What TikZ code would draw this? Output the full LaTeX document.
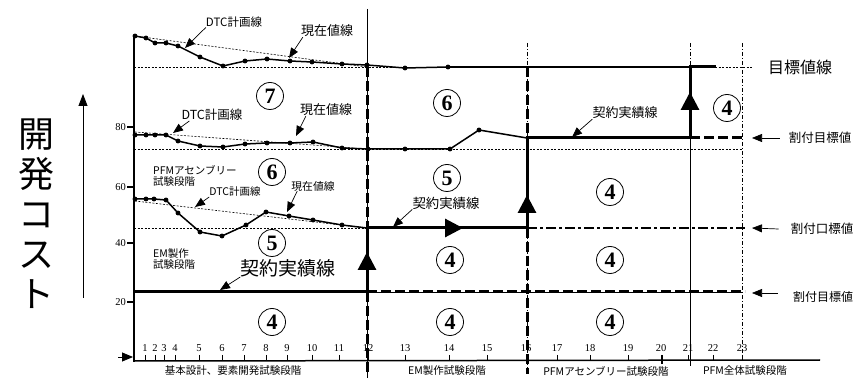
\documentclass[tikz,border=0pt]{standalone}
\usepackage{fontspec}
\setmainfont{Liberation Serif}
\newfontfamily\jp{Noto Sans CJK JP}
\usetikzlibrary{arrows.meta}

\tikzset{
  nowline/.style={line width=1.5pt,line join=round},
  dtcline/.style={line width=0.6pt,dash pattern=on 2pt off 1.5pt},
  goalline/.style={line width=0.6pt,dash pattern=on 2pt off 1.5pt},
  contract/.style={line width=3pt},
  thickdash/.style={line width=3pt,dash pattern=on 10pt off 4pt},
  thinchain/.style={line width=0.6pt,dash pattern=on 4pt off 2pt on 1pt off 2pt},
  pointer/.style={line width=0.7pt,-{Triangle[length=10pt,width=8pt]}},
  bigtip/.style={-{Triangle[length=18pt,width=18pt]}},
  jlbl/.style={font=\jp\fontsize{#1}{#1}\selectfont,inner sep=0pt},
  num/.style={font=\fontsize{10.5}{10.5}\selectfont,inner sep=0pt},
  circnum/.style={circle,draw,line width=0.8pt,minimum size=27pt,inner sep=0pt,
    font=\bfseries\fontsize{22}{22}\selectfont}
}

\begin{document}
\begin{tikzpicture}[x=1pt,y=-1pt]
\useasboundingbox (0,0) rectangle (865,379);

% left title and arrow
\node[jlbl=36,align=center,font=\jp\fontsize{36}{40}\selectfont] (title) at (37,214) {開\\発\\コ\\ス\\ト};
\coordinate (upBase) at (83,298);
\coordinate (upTip) at (83,94);
\draw[line width=0.8pt,-{Triangle[length=12pt,width=9pt]}] (upBase) -- (upTip);

% axes
\draw[line width=2.5pt] (134,36) -- (134,362);
\draw[line width=1.5pt] (134,361) -- (820,360);
\coordinate (zeroTail) at (118,357);
\coordinate (zeroTip) at (133,357);
\draw[line width=0.8pt,-{Triangle[length=11pt,width=9pt]}] (zeroTail) -- (zeroTip);

% y ticks
\draw[line width=2pt] (127,127) -- (134,127) (127,187) -- (134,187)
  (127,243) -- (134,243) (127,302) -- (134,302);
\node[num,anchor=east] (y80) at (126,127) {80};
\node[num,anchor=east] (y60) at (126,187) {60};
\node[num,anchor=east] (y40) at (126,243) {40};
\node[num,anchor=east] (y20) at (126,302) {20};

% x ticks and numbers
\foreach \x/\n in {145/1,155/2,164/3,175/4,199/5,222/6,244/7,266/8,287/9,312/10,
  339/11,368/12,405/13,449/14,487/15,526/16,557/17,590/18,628/19,661/20,688/21,
  713/22,742/23}{
  \draw[line width=0.8pt] (\x,355) -- (\x,361);
  \node[num] (n\n) at (\x,348) {\n};
}

% vertical phase lines
\draw[line width=0.7pt] (367,9) -- (367,378);
\draw[thickdash] (367,67) -- (367,228);
\draw[thickdash] (367,292) -- (367,374);
\draw[thinchain] (527,43) -- (527,375);
\draw[thickdash] (527,67) -- (527,138);
\draw[thickdash] (527,228) -- (527,374);
\draw[thinchain] (690,43) -- (690,67);
\draw[line width=0.8pt] (690,138) -- (690,366);
\draw[thinchain] (742,43) -- (742,360);
\draw[line width=2pt] (662,355) -- (662,364);

% horizontal reference lines
\draw[goalline] (134,67) -- (752,67);
\draw[goalline] (134,149) -- (742,149);
\draw[goalline] (134,228) -- (367,228);
\draw[thickdash] (690,138) -- (745,138);
\draw[line width=2.5pt,dash pattern=on 10pt off 3pt on 3pt off 3pt] (527,228) -- (745,228);
\draw[line width=0.7pt] (367,292) -- (742,292);
\draw[thickdash] (367,292) -- (745,292);

% DTC plan lines
\draw[dtcline] (135,36) -- (367,67);
\draw[dtcline] (135,132) -- (367,149);
\draw[dtcline] (135,201) -- (367,228);

% current value lines
\draw[nowline] plot[mark=*,mark size=2.2pt,mark options={line width=0.4pt}] coordinates {
  (135,36) (146,38) (155,43) (166,43) (178,46) (200,57) (223,66) (245,61) (267,59)
  (290,61) (312,62) (342,64) (367,65) (405,68) (448,67)};
\draw[nowline] (448,67) -- (690,67);
\draw[nowline] plot[mark=*,mark size=2.2pt,mark options={line width=0.4pt}] coordinates {
  (135,135) (146,135) (155,135) (166,135) (178,141) (200,146) (223,147) (245,144)
  (267,143) (290,143) (313,142) (342,148) (368,149) (405,149) (450,149) (479,130)};
\draw[nowline] (479,130) -- (527,138);
\draw[nowline] plot[mark=*,mark size=2.2pt,mark options={line width=0.4pt}] coordinates {
  (135,199) (146,199) (154,199) (166,200) (178,213) (200,232) (222,236) (246,225)
  (266,212) (289,216) (313,220) (342,225)};
\draw[nowline] (342,225) -- (367,228);

% contract line
\draw[contract] (134,292) -- (367,292);
\draw[contract,bigtip] (367,292) -- (367,252);
\draw[contract] (367,256) -- (367,228) -- (463,228);
\draw[contract,bigtip] (367,228) -- (463,228);
\draw[contract] (460,228) -- (527,228);
\draw[contract,bigtip] (527,228) -- (527,195);
\draw[contract] (527,199) -- (527,138) -- (690,138);
\draw[contract,bigtip] (690,138) -- (690,92);
\draw[contract] (690,96) -- (690,67) -- (716,67);

% labels with pointers
\node[jlbl=11.5] (dtcTop) at (234,22) {DTC計画線};
\coordinate (dtcTopTip) at (185,48);
\draw[pointer] (dtcTop.south west) -- (dtcTopTip);
\node[jlbl=13] (nowTop) at (327,31) {現在値線};
\coordinate (nowTopTip) at (289,58);
\draw[pointer] ([xshift=2pt]nowTop.south west) -- (nowTopTip);

\node[jlbl=12.5] (dtcMid) at (212,115) {DTC計画線};
\coordinate (dtcMidTip) at (173,133);
\draw[pointer] ([xshift=8pt]dtcMid.south west) -- (dtcMidTip);
\node[jlbl=13] (nowMid) at (326,110) {現在値線};
\coordinate (nowMidTip) at (296,136);
\draw[pointer] ([xshift=6pt]nowMid.south west) -- (nowMidTip);

\node[jlbl=10.5] (dtcLow) at (235,192) {DTC計画線};
\coordinate (dtcLowTip) at (195,207);
\draw[pointer] (dtcLow.south west) -- (dtcLowTip);
\node[jlbl=10.8] (nowLow) at (313,186) {現在値線};
\coordinate (nowLowTip) at (287,212);
\draw[pointer] ([xshift=6pt]nowLow.south west) -- (nowLowTip);

\node[jlbl=19] (conLeft) at (288,268) {契約実績線};
\coordinate (conLeftTip) at (220,290);
\draw[pointer] (conLeft.south west) -- (conLeftTip);
\node[jlbl=13.4] (conMid) at (446,203) {契約実績線};
\coordinate (conMidTip) at (393,227);
\draw[pointer] (conMid.south west) -- (conMidTip);
\node[jlbl=13] (conRight) at (625,113) {契約実績線};
\coordinate (conRightTip) at (572,137);
\draw[pointer] (conRight.south west) -- (conRightTip);

% phase notes
\node[jlbl=10.5,anchor=west,align=left] (pfmNote) at (153,176) {PFMアセンブリー\\試験段階};
\node[jlbl=10.5,anchor=west,align=left] (emNote) at (153,259) {EM製作\\試験段階};

% right side labels
\node[jlbl=16] (goalLbl) at (800,67) {目標値線};
\node[jlbl=12.5] (allocA) at (820,138) {割付目標値};
\coordinate (allocATip) at (752,138);
\draw[pointer] ([xshift=-9pt]allocA.west) -- (allocATip);
\node[jlbl=12.5] (allocB) at (822,229) {割付口標値};
\coordinate (allocBTip) at (752,228);
\draw[pointer] ([xshift=-12pt]allocB.west) -- (allocBTip);
\node[jlbl=12] (allocC) at (823,297) {割付目標値};
\coordinate (allocCTip) at (752,293);
\draw[pointer] ([xshift=-15pt]allocC.west|-allocCTip) -- (allocCTip);

% circled numbers
\node[circnum] (c7) at (270,96) {7};
\node[circnum] (c6a) at (272,172) {6};
\node[circnum] (c5a) at (272,243) {5};
\node[circnum] (c4a) at (272,322) {4};
\node[circnum] (c6b) at (447,103) {6};
\node[circnum] (c5b) at (447,178) {5};
\node[circnum] (c4b) at (450,260) {4};
\node[circnum] (c4c) at (450,322) {4};
\node[circnum] (c4d) at (610,192) {4};
\node[circnum] (c4e) at (610,260) {4};
\node[circnum] (c4f) at (610,322) {4};
\node[circnum] (c4g) at (727,108) {4};

% phase names
\node[jlbl=10.5] (ph1) at (233,371) {基本設計、要素開発試験段階};
\node[jlbl=10.5] (ph2) at (447,371) {EM製作試験段階};
\node[jlbl=10.5] (ph3) at (606,371) {PFMアセンブリー試験段階};
\node[jlbl=10.5] (ph4) at (745,371) {PFM全体試験段階};
\end{tikzpicture}
\end{document}
